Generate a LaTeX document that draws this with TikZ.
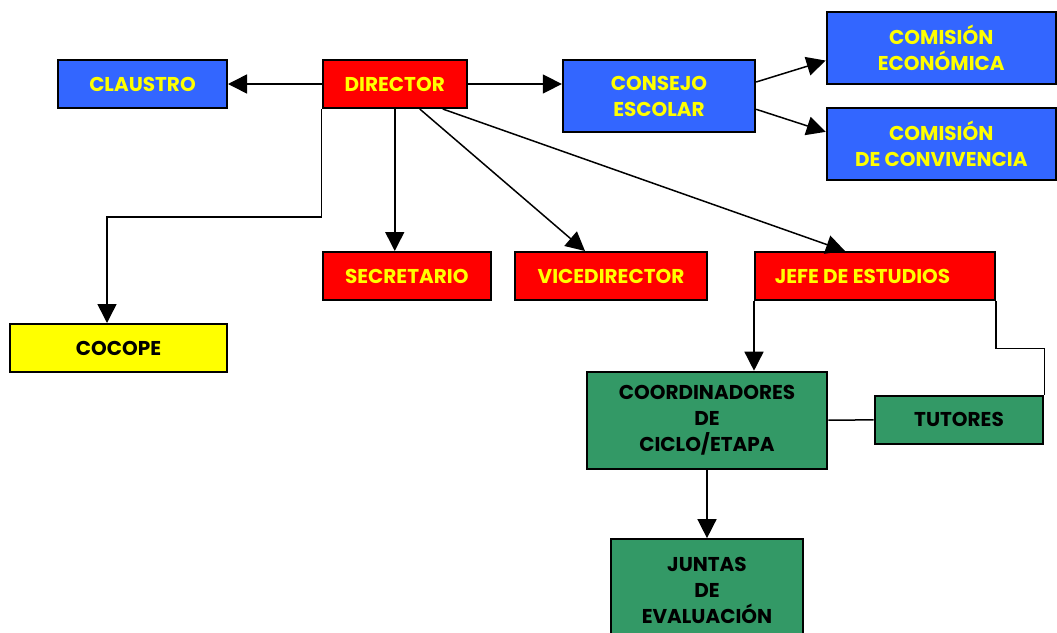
\documentclass[tikz,border=0pt]{standalone}
\usepackage{fontspec}
\setmainfont{Poppins}
\usetikzlibrary{calc,arrows.meta}
\definecolor{boxblue}{RGB}{51,102,255}
\definecolor{boxred}{RGB}{255,0,0}
\definecolor{boxgreen}{RGB}{51,153,102}
\definecolor{boxyellow}{RGB}{255,255,0}
\tikzset{
	box/.style={draw=black, line width=2pt, align=center, inner sep=0pt, font=\fontsize{20}{26}\selectfont\bfseries},
	bluebox/.style={box, fill=boxblue, text=boxyellow},
	redbox/.style={box, fill=boxred, text=boxyellow},
	greenbox/.style={box, fill=boxgreen, text=black},
	yellowbox/.style={box, fill=boxyellow, text=black},
	arr/.style={line width=1.5pt, -{Triangle[length=19pt,width=19pt]}},
	ln/.style={line width=1.5pt}
}

\begin{document}
\begin{tikzpicture}[x=1pt,y=-1pt]
	\useasboundingbox (0,0) rectangle (1057,632);
	\clip (0,0) rectangle (1057,632);
	
	%Drawing the boxes
	\node[bluebox, minimum width=169pt, minimum height=48pt] (claustro) at (142.5,84) {CLAUSTRO};
	\node[redbox, minimum width=144.5pt, minimum height=48pt] (director) at (394.75,84) {DIRECTOR};
	\node[bluebox, minimum width=192.3pt, minimum height=72pt] (consejo) at (659,96) {CONSEJO\\ESCOLAR};
	\node[bluebox, minimum width=229.3pt, minimum height=72.3pt] (comecon) at (941.3,47.85) {COMISIÓN\\ECONÓMICA};
	\node[bluebox, minimum width=229.3pt, minimum height=72.3pt] (comconv) at (941.3,143.85) {COMISIÓN\\DE CONVIVENCIA};
	\node[redbox, minimum width=168.5pt, minimum height=48pt] (secretario) at (406.75,276) {SECRETARIO};
	\node[redbox, minimum width=192pt, minimum height=48pt] (vicedir) at (611,276) {VICEDIRECTOR};
	\node[redbox, minimum width=240pt, minimum height=48pt] (jefe) at (875,276) {\hspace*{-25pt}JEFE DE ESTUDIOS};
	\node[yellowbox, minimum width=217pt, minimum height=48pt] (cocope) at (118.5,348) {COCOPE};
	\node[greenbox, minimum width=240.6pt, minimum height=97pt] (coord) at (707,420.2) {COORDINADORES\\DE\\CICLO/ETAPA};
	\node[greenbox, minimum width=168.6pt, minimum height=48.3pt] (tutores) at (959,419.85) {TUTORES};
	\node[greenbox, minimum width=192.6pt, minimum height=101.7pt] (juntas) at (707,590) {JUNTAS\\DE\\EVALUACIÓN};
	
	%Drawing the arrows from DIRECTOR
	\draw[arr] (director) -- (claustro);
	\draw[arr] (director.east) -- (director.east -| consejo.west);
	\draw[arr] (director.south) -- (director.south |- secretario.north);
	\draw[arr] ([xshift=25pt]director.south) -- ([xshift=-26pt]vicedir.north);
	\draw[arr] ([xshift=48pt]director.south) -- ([xshift=-30pt]jefe.north);
	\draw[arr] (director.south west) -- ++(0,108) -| ([xshift=-11.5pt]cocope.north);
	
	%Drawing the arrows from CONSEJO
	\draw[arr] ([yshift=-23pt]consejo.north east) -- ([yshift=-12.7pt]comecon.west);
	\draw[arr] ([yshift=23.7pt]consejo.south east) -- ([yshift=12pt]comconv.west);
	
	%Drawing the lines below JEFE
	\draw[arr] (jefe.south west) -- (jefe.south west |- coord.north);
	\draw[ln] (jefe.south east) -- ++(0,47.7) -| (tutores.north east);
	\draw[ln] (coord.east) -- (tutores.west);
	\draw[arr] (coord.south) -- (juntas.north);
	
\end{tikzpicture}
\end{document}
